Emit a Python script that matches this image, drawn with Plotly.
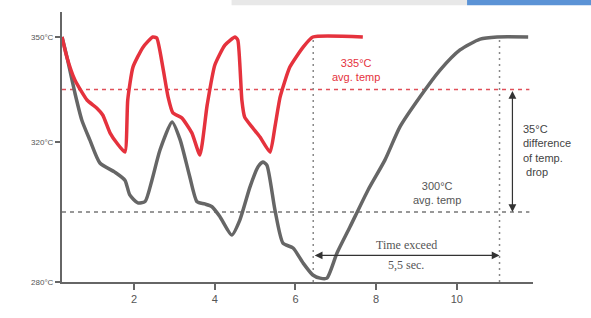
import plotly.graph_objects as go

# ---- data ----
gray_x = [0.21, 0.35, 0.53, 0.70, 0.90, 1.15, 1.52, 1.77, 1.89, 2.09, 2.27, 2.44, 2.64,
          2.94, 3.14, 3.38, 3.56, 3.75, 3.93, 4.13, 4.42, 4.62, 4.87, 5.07, 5.19, 5.29,
          5.49, 5.69, 5.94, 6.19, 6.43, 6.61, 6.78, 7.03, 7.35, 7.80, 8.22, 8.59, 9.09,
          9.59, 10.08, 10.58, 11.0, 11.77]
gray_y = [350.0, 343.4, 334.0, 326.3, 320.6, 314.0, 311.4, 309.1, 304.9, 302.6, 303.0, 309.1, 317.7,
          325.7, 320.6, 310.0, 302.9, 302.3, 301.5, 298.6, 293.4, 297.7, 307.1, 312.9, 314.3, 313.4,
          300.6, 291.1, 289.7, 285.4, 282.0, 281.1, 281.1, 288.3, 295.7, 306.3, 314.9, 324.3, 332.9,
          340.6, 346.3, 349.4, 350.0, 350.0]

red_x = [0.21, 0.33, 0.53, 0.83, 1.07, 1.22, 1.40, 1.57, 1.77, 1.84, 1.97, 2.22, 2.46, 2.56,
         2.71, 2.84, 2.96, 3.18, 3.43, 3.63, 3.81, 4.00, 4.25, 4.50, 4.57, 4.67, 4.74, 4.92,
         5.12, 5.37, 5.49, 5.62, 5.86, 6.19, 6.43, 7.67]
red_y = [350.0, 344.3, 337.7, 332.0, 329.7, 327.7, 322.6, 319.7, 317.1, 332.0, 341.4, 347.1, 350.0, 349.7,
         341.4, 332.9, 328.3, 326.9, 322.6, 316.3, 330.6, 342.0, 347.7, 350.0, 349.1, 332.0, 327.1, 324.3,
         321.4, 317.1, 324.3, 332.9, 341.4, 347.1, 350.0, 350.0]

avg_red = 335
avg_gray = 300
t_start = 6.44
t_end = 11.06
x_ticks = [2, 4, 6, 8, 10]
y_ticks = [280, 320, 350]
y_tick_text = ["280°C", "320°C", "350°C"]

RED = "#e5323d"
GRAY = "#666666"

fig = go.Figure()

# reference lines
fig.add_trace(go.Scatter(x=[0.21, 11.8], y=[avg_red, avg_red], mode="lines",
                         line=dict(color="#e0505a", width=1.5, dash="4px,4px"),
                         hoverinfo="skip", showlegend=False))
fig.add_trace(go.Scatter(x=[0.21, 11.8], y=[avg_gray, avg_gray], mode="lines",
                         line=dict(color="#777777", width=1.5, dash="4px,4px"),
                         hoverinfo="skip", showlegend=False))
for xv in [t_start, t_end]:
    fig.add_trace(go.Scatter(x=[xv, xv], y=[280, 350], mode="lines",
                             line=dict(color="#888888", width=1.5, dash="2px,4px"),
                             hoverinfo="skip", showlegend=False))

fig.add_trace(go.Scatter(x=gray_x, y=gray_y, mode="lines",
                         line=dict(color=GRAY, width=3.5, shape="spline", smoothing=0.6),
                         showlegend=False))
fig.add_trace(go.Scatter(x=red_x, y=red_y, mode="lines",
                         line=dict(color=RED, width=3.5, shape="spline", smoothing=0.5),
                         showlegend=False))

t_arrow_y = 287.6
annotations = [
    dict(x=t_end, y=t_arrow_y, ax=t_start, ay=t_arrow_y, xref="x", yref="y", axref="x", ayref="y",
         text="", showarrow=True, arrowhead=2, arrowside="end+start", arrowsize=1.3,
         arrowwidth=1.2, arrowcolor="#333333"),
    dict(x=11.38, y=avg_gray, ax=11.38, ay=avg_red, xref="x", yref="y", axref="x", ayref="y",
         text="", showarrow=True, arrowhead=2, arrowside="end+start", arrowsize=1.3,
         arrowwidth=1.2, arrowcolor="#333333"),
    dict(x=(t_start + t_end) / 2, y=t_arrow_y, yshift=10, xref="x", yref="y", text="Time exceed",
         showarrow=False, font=dict(family="Liberation Serif", size=12, color="#555555")),
    dict(x=(t_start + t_end) / 2, y=t_arrow_y, yshift=-10, xref="x", yref="y", text="5,5 sec.",
         showarrow=False, font=dict(family="Liberation Serif", size=12, color="#555555")),
    dict(x=7.5, y=avg_red, yshift=4, yanchor="bottom", xref="x", yref="y",
         text="335°C<br>avg. temp", showarrow=False,
         font=dict(family="Liberation Sans", size=11, color=RED), align="center"),
    dict(x=9.52, y=avg_gray, yshift=4, yanchor="bottom", xref="x", yref="y",
         text="300°C<br>avg. temp", showarrow=False,
         font=dict(family="Liberation Sans", size=11, color="#555555"), align="center"),
    dict(x=11.6, y=317.5, xref="x", yref="y", xanchor="left", text="35°C<br>difference<br>of temp.<br> drop",
         showarrow=False, font=dict(family="Liberation Sans", size=11, color="#444444"), align="left"),
]

fig.update_layout(
    width=591, height=318,
    margin=dict(l=62, r=58, t=12, b=36, autoexpand=False),
    paper_bgcolor="white", plot_bgcolor="white",
    annotations=annotations,
    shapes=[
        dict(type="rect", xref="paper", yref="paper", x0=0.36, x1=0.86, y0=1.025, y1=1.045,
             fillcolor="#e8e8e8", line=dict(width=0), layer="below"),
        dict(type="rect", xref="paper", yref="paper", x0=0.86, x1=1.13, y0=1.025, y1=1.045,
             fillcolor="#5b93d6", line=dict(width=0), layer="below"),
    ],
    xaxis=dict(range=[0.21, 11.89], showgrid=False, zeroline=False, showline=True,
               linecolor="#666666", linewidth=2, ticks="outside", ticklen=6, tickcolor="#666666",
               tickwidth=1.5, tickvals=x_ticks,
               tickfont=dict(family="Liberation Sans", size=11, color="#555555")),
    yaxis=dict(range=[280, 357.14], showgrid=False, zeroline=False, showline=True,
               linecolor="#666666", linewidth=2, ticks="outside", ticklen=5, tickcolor="#666666",
               tickwidth=1.5, tickvals=y_ticks, ticktext=y_tick_text,
               tickfont=dict(family="Liberation Sans", size=8, color="#555555")),
)

fig.write_html("out.html", config={"displayModeBar": False},
               post_script="document.body.style.margin='0';")
